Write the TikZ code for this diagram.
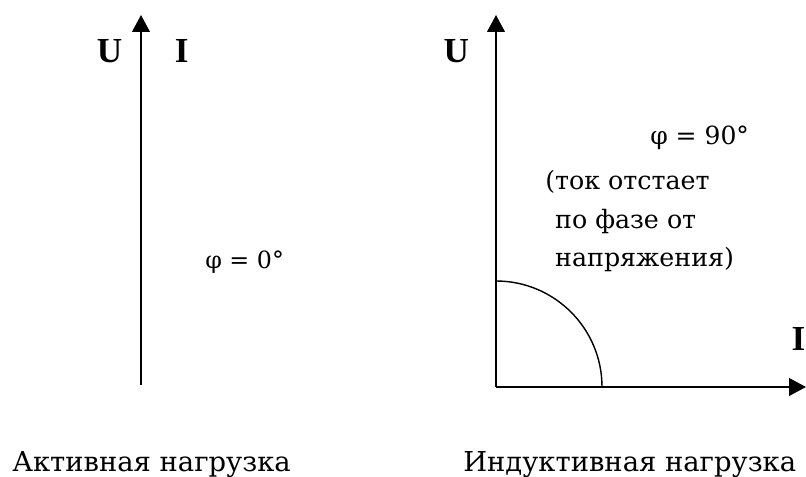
\documentclass[tikz,border=0pt]{standalone}
\usepackage{fontspec}
\newfontfamily\rusfont{DejaVu Serif}
\newfontfamily\lblfont{Liberation Serif}
\usetikzlibrary{arrows.meta,calc}

\tikzset{
  axis/.style={line width=1.4pt},
  axlabel/.style={font=\lblfont\bfseries\fontsize{25}{30}\selectfont},
  caption/.style={anchor=base west, inner sep=0pt, font=\rusfont\fontsize{19.5}{24}\selectfont},
  note/.style={anchor=base west, inner sep=0pt, font=\rusfont\fontsize{18}{27.4}\selectfont}
}

\begin{document}
\begin{tikzpicture}[>={Triangle[length=12pt,width=12.5pt]}]
    \useasboundingbox (0,0) rectangle (20.15,11.925);

    % active load: U and I in phase
    \coordinate (A0) at (3.525,2.3);
    \draw[->, axis] (A0) -- (3.525,11.55);
    \node[axlabel] (AU) at (2.74,10.64) {U};
    \node[axlabel] (AI) at (4.54,10.64) {I};
    \node[anchor=base west, inner sep=0pt, font=\rusfont\fontsize{16.9}{20}\selectfont]
        (phiA) at (5.125,5.2) {φ = 0°};
    \node[caption] (capA) at (0.3,0.125) {Активная нагрузка};

    % inductive load: I lags U by 90 deg
    \coordinate (B0) at (12.4,2.25);
    \draw[->, axis] (B0) -- (12.4,11.55);
    \draw[->, axis] (B0) -- (20.15,2.25);
    \draw[line width=1pt] ($(B0)+(2.65,0)$) arc[start angle=0,end angle=90,radius=2.65];
    \node[axlabel] (BU) at (11.41,10.64) {U};
    \node[axlabel] (BI) at (19.96,3.44) {I};
    \node[anchor=base west, inner sep=0pt, font=\rusfont\fontsize{17.8}{22}\selectfont]
        (phiB) at (16.25,8.3) {φ = 90°};
    \node[note, align=left] (lag) at (13.625,5.25)
        {(ток отстает\\\phantom{(}по фазе от\\\phantom{(}напряжения)};
    \node[caption] (capB) at (11.575,0.125) {Индуктивная нагрузка};
\end{tikzpicture}
\end{document}
